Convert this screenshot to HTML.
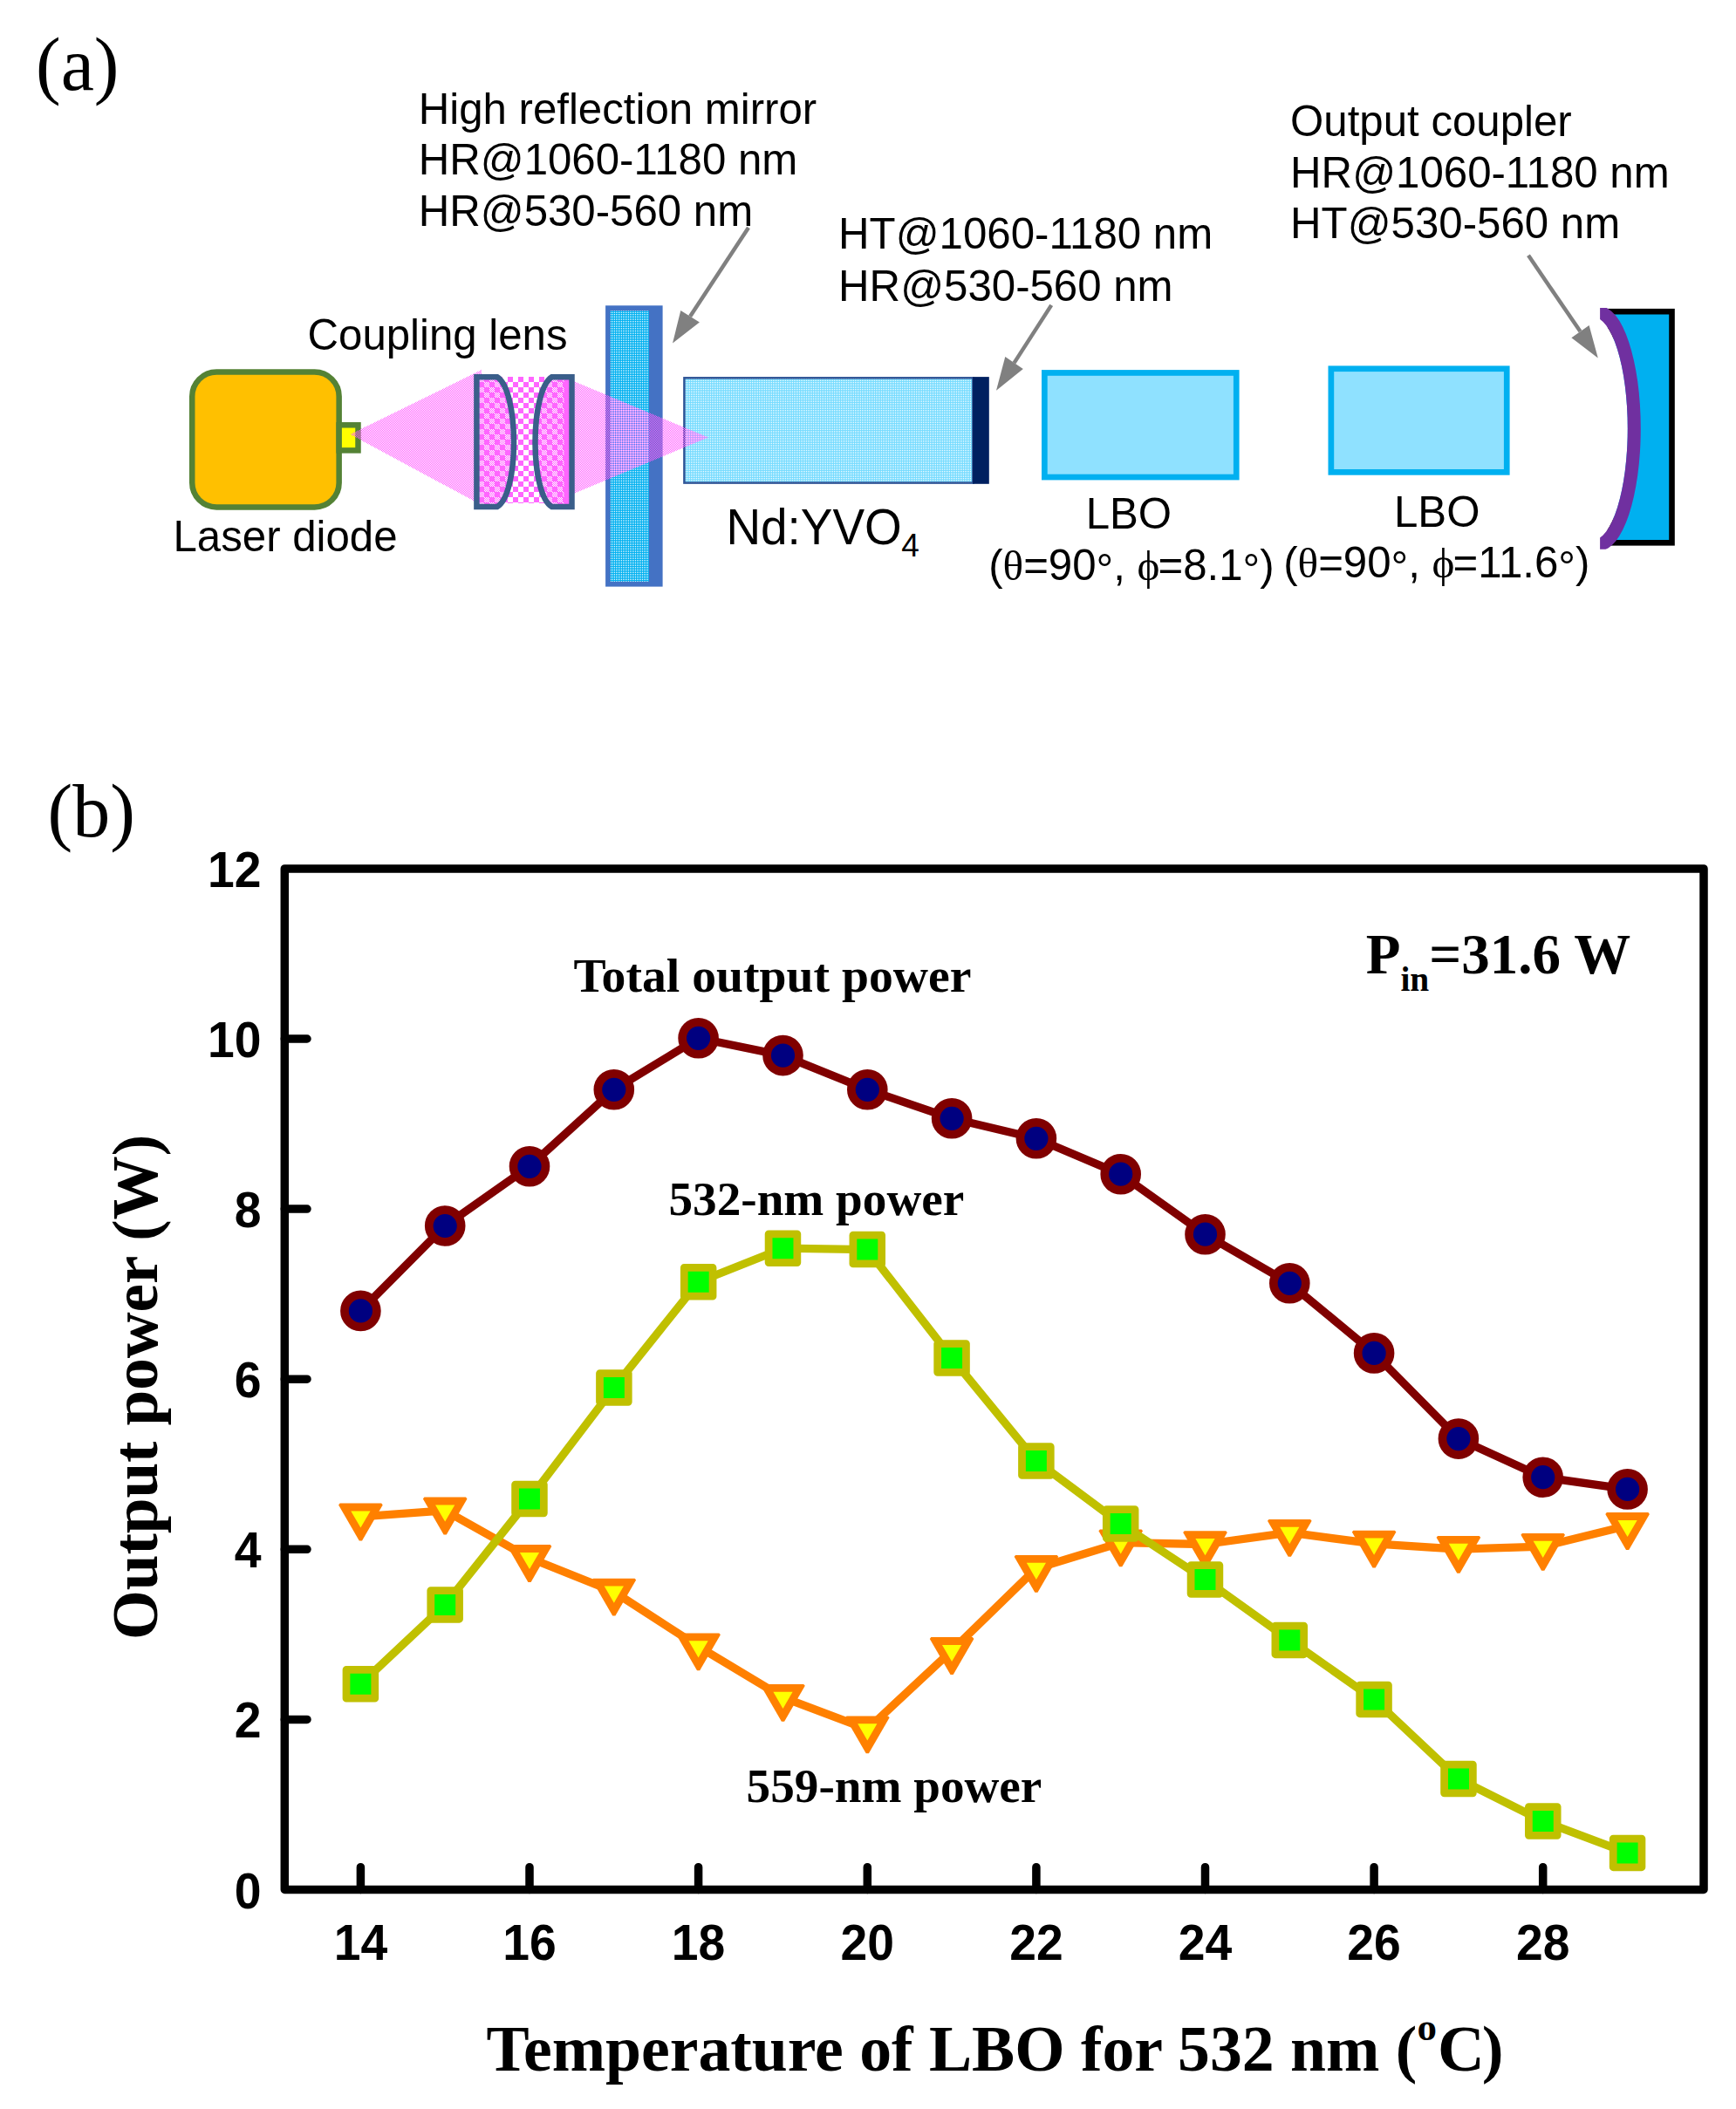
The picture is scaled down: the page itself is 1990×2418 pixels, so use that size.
<!DOCTYPE html>
<html><head><meta charset="utf-8"><title>Figure</title>
<style>
html,body{margin:0;padding:0;background:#fff;}
svg{display:block;}
</style></head>
<body>
<svg width="1990" height="2418" viewBox="0 0 1990 2418">
<rect x="0" y="0" width="1990" height="2418" fill="#FFFFFF"/>

<defs>
  <pattern id="pBeam" width="2" height="2" patternUnits="userSpaceOnUse">
    <rect x="1" y="0" width="1" height="1" fill="#FF5CFF"/>
    <rect x="0" y="1" width="1" height="1" fill="#FF5CFF"/>
  </pattern>
  <pattern id="pLensD" width="2" height="2" patternUnits="userSpaceOnUse">
    <rect width="2" height="2" fill="#FF66FF"/>
    <rect x="0" y="0" width="1" height="1" fill="#FFFFFF"/>
    <rect x="1" y="1" width="1" height="1" fill="#FFFFFF"/>
  </pattern>
  <pattern id="pLens" width="12" height="12" patternUnits="userSpaceOnUse" x="543" y="432">
    <rect width="12" height="12" fill="#FF66FF"/>
    <rect x="6" y="0" width="6" height="6" fill="url(#pLensD)"/>
    <rect x="0" y="6" width="6" height="6" fill="url(#pLensD)"/>
  </pattern>
  <pattern id="pCheck" width="12" height="12" patternUnits="userSpaceOnUse" x="570" y="432">
    <rect width="12" height="12" fill="#FFFFFF"/>
    <rect x="0" y="0" width="6" height="6" fill="#FF66FF"/>
    <rect x="6" y="6" width="6" height="6" fill="#FF66FF"/>
  </pattern>
  <pattern id="pMirror" width="2" height="2" patternUnits="userSpaceOnUse">
    <rect width="2" height="2" fill="#00B0F0"/>
    <rect x="0" y="0" width="1" height="1" fill="#FFFFFF"/>
  </pattern>
  <pattern id="pCrystal" width="2" height="2" patternUnits="userSpaceOnUse">
    <rect width="2" height="2" fill="#75DBFF"/>
    <rect x="0" y="0" width="1" height="1" fill="#FFFFFF"/>
  </pattern>
</defs>

<text x="41" y="102.8" font-family="'Liberation Serif', 'Times New Roman', serif" font-size="86">(a)</text>
<rect x="694.1" y="350.3" width="65.5" height="322.3" fill="#4472C4"/>
<rect x="699.6" y="356.3" width="44.3" height="310.5" fill="url(#pMirror)"/>
<rect x="784.4" y="433.3" width="331" height="120.3" fill="url(#pCrystal)" stroke="#2F5597" stroke-width="2.5"/>
<rect x="1115.1" y="432.1" width="18.7" height="122.7" fill="#002060"/>
<polygon points="401.5,498 552,424 552,579" fill="url(#pBeam)"/>
<polygon points="655,436 812,501.5 655,567" fill="url(#pBeam)"/>
<rect x="570" y="432" width="62" height="145" fill="url(#pCheck)"/>
<path d="M546.4,432.3 L570,432.3 C582,440 589,472 589,507 C589,542 582,574 570,581 L546.4,581 Z" fill="url(#pLens)" stroke="#3A5E8A" stroke-width="6.5" stroke-linejoin="miter"/>
<path d="M655.5,432.3 L632.5,432.3 C620.5,440 613.5,472 613.5,507 C613.5,542 620.5,574 632.5,581 L655.5,581 Z" fill="url(#pLens)"/>
<rect x="646.5" y="435" width="6" height="143" fill="#FF66FF"/>
<path d="M655.5,432.3 L632.5,432.3 C620.5,440 613.5,472 613.5,507 C613.5,542 620.5,574 632.5,581 L655.5,581 Z" fill="none" stroke="#3A5E8A" stroke-width="6.5" stroke-linejoin="miter"/>
<rect x="220.25" y="426.5" width="168.4" height="154.9" rx="28" ry="28" fill="#FFC000" stroke="#548235" stroke-width="6.5"/>
<rect x="388.65" y="487.3" width="21.85" height="29.1" fill="#FFFF00" stroke="#548235" stroke-width="6.5"/>
<polygon points="401.5,498 420,489 420,507.5" fill="url(#pBeam)"/>
<rect x="1197.35" y="427.45" width="219.9" height="119.6" fill="#8FE1FF" stroke="#00B0F0" stroke-width="6.7"/>
<rect x="1525.85" y="422.75" width="201.4" height="118.6" fill="#8FE1FF" stroke="#00B0F0" stroke-width="6.7"/>
<rect x="1846" y="357.2" width="70.5" height="265.1" fill="#00B0F0" stroke="#000000" stroke-width="6.6"/>
<clipPath id="ocClip"><rect x="1834.1" y="353.1" width="100" height="276.7"/></clipPath>
<g clip-path="url(#ocClip)">
<ellipse cx="1825.8" cy="491.2" rx="40" ry="128" fill="#FFFFFF"/>
<path fill-rule="evenodd" fill="#7030A0" d="M1834.3,351.2 A46.5,140 0 0 1 1834.3,631.2 A46.5,140 0 0 1 1834.3,351.2 Z M1825.8,363.2 A40,128 0 0 1 1825.8,619.2 A40,128 0 0 1 1825.8,363.2 Z"/>
</g>
<line x1="858" y1="261" x2="791.1" y2="362.8" stroke="#808080" stroke-width="4.5"/><polygon points="771,393.4 780.3,356.1 801.9,369.5" fill="#808080"/>
<line x1="1205.2" y1="349.9" x2="1162.5" y2="416.1" stroke="#808080" stroke-width="4.5"/><polygon points="1142,447.8 1152.3,409.1 1172.8,423.1" fill="#808080"/>
<line x1="1752" y1="292.8" x2="1811.5" y2="380.1" stroke="#808080" stroke-width="4.5"/><polygon points="1831.8,410.5 1801.4,387.2 1821.6,373" fill="#808080"/>
<g font-family="'Liberation Sans', Arial, sans-serif" font-size="49.2" fill="#000">
<text x="479.7" y="141.8">High reflection mirror</text>
<text x="479.7" y="200.3">HR@1060-1180 nm</text>
<text x="479.7" y="258.5">HR@530-560 nm</text>
<text x="961.1" y="285.3">HT@1060-1180 nm</text>
<text x="961.1" y="344.6">HR@530-560 nm</text>
<text x="1479.1" y="156.2">Output coupler</text>
<text x="1479.1" y="214.6">HR@1060-1180 nm</text>
<text x="1479.1" y="273.4">HT@530-560 nm</text>
<text x="352.5" y="400.9">Coupling lens</text>
<text x="198.5" y="632.3">Laser diode</text>
<text x="1244.7" y="606">LBO</text>
<text x="1598" y="604.4">LBO</text>
<text x="1133.2" y="664.7">(<tspan font-family="'Liberation Serif', 'Times New Roman', serif">θ</tspan>=90<tspan dy="5">°</tspan><tspan dy="-5">, </tspan><tspan font-family="'Liberation Serif', 'Times New Roman', serif">ϕ</tspan><tspan dx="-2">=8.1</tspan><tspan dy="5">°</tspan><tspan dy="-5">)</tspan></text>
<text x="1471.2" y="661.8">(<tspan font-family="'Liberation Serif', 'Times New Roman', serif">θ</tspan>=90<tspan dy="5">°</tspan><tspan dy="-5">, </tspan><tspan font-family="'Liberation Serif', 'Times New Roman', serif">ϕ</tspan><tspan dx="-2">=11.6</tspan><tspan dy="5">°</tspan><tspan dy="-5">)</tspan></text>
</g>
<text x="832.4" y="624.1" font-family="'Liberation Sans', Arial, sans-serif" font-size="57.5" textLength="201.4" lengthAdjust="spacingAndGlyphs">Nd:YVO</text>
<text x="1033.2" y="637.9" font-family="'Liberation Sans', Arial, sans-serif" font-size="37">4</text>
<text x="54.5" y="958.8" font-family="'Liberation Serif', 'Times New Roman', serif" font-size="86">(b)</text>
<rect x="326.3" y="995.9" width="1626.7" height="1170.6" fill="none" stroke="#000" stroke-width="9.5" stroke-linejoin="round"/>
<path d="M326.3,1971.4 H352 M326.3,1776.3 H352 M326.3,1581.2 H352 M326.3,1386.1 H352 M326.3,1191.0 H352 M413.4,2166.5 V2140.7 M607.0,2166.5 V2140.7 M800.6,2166.5 V2140.7 M994.3,2166.5 V2140.7 M1187.9,2166.5 V2140.7 M1381.5,2166.5 V2140.7 M1575.1,2166.5 V2140.7 M1768.7,2166.5 V2140.7" stroke="#000" stroke-width="9.5" stroke-linecap="round" fill="none"/>
<g font-family="'Liberation Sans', Arial, sans-serif" font-weight="bold" font-size="57.5" fill="#000">
<text x="299.5" y="2187.5" text-anchor="end" textLength="30.8" lengthAdjust="spacingAndGlyphs">0</text>
<text x="299.5" y="1992.4" text-anchor="end" textLength="30.8" lengthAdjust="spacingAndGlyphs">2</text>
<text x="299.5" y="1797.3" text-anchor="end" textLength="30.8" lengthAdjust="spacingAndGlyphs">4</text>
<text x="299.5" y="1602.2" text-anchor="end" textLength="30.8" lengthAdjust="spacingAndGlyphs">6</text>
<text x="299.5" y="1407.1" text-anchor="end" textLength="30.8" lengthAdjust="spacingAndGlyphs">8</text>
<text x="299.5" y="1212.0" text-anchor="end" textLength="61.5" lengthAdjust="spacingAndGlyphs">10</text>
<text x="299.5" y="1016.9" text-anchor="end" textLength="61.5" lengthAdjust="spacingAndGlyphs">12</text>
<text x="413.4" y="2246.5" text-anchor="middle" textLength="61.5" lengthAdjust="spacingAndGlyphs">14</text>
<text x="607.0" y="2246.5" text-anchor="middle" textLength="61.5" lengthAdjust="spacingAndGlyphs">16</text>
<text x="800.6" y="2246.5" text-anchor="middle" textLength="61.5" lengthAdjust="spacingAndGlyphs">18</text>
<text x="994.3" y="2246.5" text-anchor="middle" textLength="61.5" lengthAdjust="spacingAndGlyphs">20</text>
<text x="1187.9" y="2246.5" text-anchor="middle" textLength="61.5" lengthAdjust="spacingAndGlyphs">22</text>
<text x="1381.5" y="2246.5" text-anchor="middle" textLength="61.5" lengthAdjust="spacingAndGlyphs">24</text>
<text x="1575.1" y="2246.5" text-anchor="middle" textLength="61.5" lengthAdjust="spacingAndGlyphs">26</text>
<text x="1768.7" y="2246.5" text-anchor="middle" textLength="61.5" lengthAdjust="spacingAndGlyphs">28</text>
</g>
<polyline points="413.4,1738.8 510.2,1731.8 607.0,1786.3 703.8,1825.0 800.6,1887.7 897.5,1946.1 994.3,1982.6 1091.1,1892.3 1187.9,1798.2 1284.7,1768.7 1381.5,1770.5 1478.3,1757.2 1575.1,1769.9 1671.9,1776.2 1768.7,1773.1 1865.6,1749.3" fill="none" stroke="#FF8000" stroke-width="9.3" stroke-linejoin="round"/>
<polygon points="389.6,1723.6 437.2,1723.6 438.7,1725.4 415.0,1766.4 411.8,1766.4 388.1,1725.4" fill="#FF8000"/>
<polygon points="402.3,1732.4 424.5,1732.4 413.4,1751.6" fill="#FFFF00"/>
<polygon points="486.4,1716.6 534.0,1716.6 535.5,1718.4 511.8,1759.4 508.6,1759.4 484.9,1718.4" fill="#FF8000"/>
<polygon points="499.1,1725.4 521.3,1725.4 510.2,1744.6" fill="#FFFF00"/>
<polygon points="583.2,1771.1 630.8,1771.1 632.3,1772.9 608.6,1813.9 605.4,1813.9 581.7,1772.9" fill="#FF8000"/>
<polygon points="595.9,1779.9 618.1,1779.9 607.0,1799.1" fill="#FFFF00"/>
<polygon points="680.0,1809.8 727.6,1809.8 729.1,1811.6 705.4,1852.6 702.2,1852.6 678.5,1811.6" fill="#FF8000"/>
<polygon points="692.7,1818.6 714.9,1818.6 703.8,1837.8" fill="#FFFF00"/>
<polygon points="776.8,1872.5 824.4,1872.5 825.9,1874.3 802.2,1915.3 799.0,1915.3 775.3,1874.3" fill="#FF8000"/>
<polygon points="789.5,1881.3 811.7,1881.3 800.6,1900.5" fill="#FFFF00"/>
<polygon points="873.7,1930.9 921.2,1930.9 922.8,1932.7 899.1,1973.7 895.9,1973.7 872.2,1932.7" fill="#FF8000"/>
<polygon points="886.4,1939.7 908.6,1939.7 897.5,1958.9" fill="#FFFF00"/>
<polygon points="970.5,1967.4 1018.1,1967.4 1019.6,1969.2 995.9,2010.2 992.7,2010.2 969.0,1969.2" fill="#FF8000"/>
<polygon points="983.2,1976.2 1005.4,1976.2 994.3,1995.4" fill="#FFFF00"/>
<polygon points="1067.3,1877.1 1114.9,1877.1 1116.4,1878.9 1092.7,1919.9 1089.5,1919.9 1065.8,1878.9" fill="#FF8000"/>
<polygon points="1080.0,1885.9 1102.2,1885.9 1091.1,1905.1" fill="#FFFF00"/>
<polygon points="1164.1,1783.0 1211.7,1783.0 1213.2,1784.8 1189.5,1825.8 1186.3,1825.8 1162.6,1784.8" fill="#FF8000"/>
<polygon points="1176.8,1791.8 1199.0,1791.8 1187.9,1811.0" fill="#FFFF00"/>
<polygon points="1260.9,1753.5 1308.5,1753.5 1310.0,1755.3 1286.3,1796.3 1283.1,1796.3 1259.4,1755.3" fill="#FF8000"/>
<polygon points="1273.6,1762.3 1295.8,1762.3 1284.7,1781.5" fill="#FFFF00"/>
<polygon points="1357.7,1755.3 1405.3,1755.3 1406.8,1757.1 1383.1,1798.1 1379.9,1798.1 1356.2,1757.1" fill="#FF8000"/>
<polygon points="1370.4,1764.1 1392.6,1764.1 1381.5,1783.3" fill="#FFFF00"/>
<polygon points="1454.5,1742.0 1502.1,1742.0 1503.6,1743.8 1479.9,1784.8 1476.7,1784.8 1453.0,1743.8" fill="#FF8000"/>
<polygon points="1467.2,1750.8 1489.4,1750.8 1478.3,1770.0" fill="#FFFF00"/>
<polygon points="1551.3,1754.7 1598.9,1754.7 1600.4,1756.5 1576.7,1797.5 1573.5,1797.5 1549.8,1756.5" fill="#FF8000"/>
<polygon points="1564.0,1763.5 1586.2,1763.5 1575.1,1782.7" fill="#FFFF00"/>
<polygon points="1648.1,1761.0 1695.7,1761.0 1697.2,1762.8 1673.5,1803.8 1670.3,1803.8 1646.6,1762.8" fill="#FF8000"/>
<polygon points="1660.8,1769.8 1683.0,1769.8 1671.9,1789.0" fill="#FFFF00"/>
<polygon points="1744.9,1757.9 1792.5,1757.9 1794.0,1759.7 1770.3,1800.7 1767.1,1800.7 1743.4,1759.7" fill="#FF8000"/>
<polygon points="1757.6,1766.7 1779.8,1766.7 1768.7,1785.9" fill="#FFFF00"/>
<polygon points="1841.8,1734.1 1889.4,1734.1 1890.9,1735.9 1867.2,1776.9 1864.0,1776.9 1840.3,1735.9" fill="#FF8000"/>
<polygon points="1854.5,1742.9 1876.7,1742.9 1865.6,1762.1" fill="#FFFF00"/>
<polyline points="413.4,1930.8 510.2,1839.9 607.0,1718.5 703.8,1591.0 800.6,1469.8 897.5,1431.2 994.3,1432.6 1091.1,1557.0 1187.9,1675.1 1284.7,1747.1 1381.5,1811.0 1478.3,1880.4 1575.1,1948.4 1671.9,2039.5 1768.7,2088.0 1865.6,2124.4" fill="none" stroke="#C0C000" stroke-width="9.3" stroke-linejoin="round"/>
<rect x="397.0" y="1914.4" width="32.75" height="32.75" fill="#00FF00" stroke="#C0C000" stroke-width="8.75" stroke-linejoin="round"/>
<rect x="493.8" y="1823.5" width="32.75" height="32.75" fill="#00FF00" stroke="#C0C000" stroke-width="8.75" stroke-linejoin="round"/>
<rect x="590.6" y="1702.1" width="32.75" height="32.75" fill="#00FF00" stroke="#C0C000" stroke-width="8.75" stroke-linejoin="round"/>
<rect x="687.5" y="1574.6" width="32.75" height="32.75" fill="#00FF00" stroke="#C0C000" stroke-width="8.75" stroke-linejoin="round"/>
<rect x="784.3" y="1453.4" width="32.75" height="32.75" fill="#00FF00" stroke="#C0C000" stroke-width="8.75" stroke-linejoin="round"/>
<rect x="881.1" y="1414.8" width="32.75" height="32.75" fill="#00FF00" stroke="#C0C000" stroke-width="8.75" stroke-linejoin="round"/>
<rect x="977.9" y="1416.2" width="32.75" height="32.75" fill="#00FF00" stroke="#C0C000" stroke-width="8.75" stroke-linejoin="round"/>
<rect x="1074.7" y="1540.6" width="32.75" height="32.75" fill="#00FF00" stroke="#C0C000" stroke-width="8.75" stroke-linejoin="round"/>
<rect x="1171.5" y="1658.7" width="32.75" height="32.75" fill="#00FF00" stroke="#C0C000" stroke-width="8.75" stroke-linejoin="round"/>
<rect x="1268.3" y="1730.7" width="32.75" height="32.75" fill="#00FF00" stroke="#C0C000" stroke-width="8.75" stroke-linejoin="round"/>
<rect x="1365.1" y="1794.6" width="32.75" height="32.75" fill="#00FF00" stroke="#C0C000" stroke-width="8.75" stroke-linejoin="round"/>
<rect x="1461.9" y="1864.0" width="32.75" height="32.75" fill="#00FF00" stroke="#C0C000" stroke-width="8.75" stroke-linejoin="round"/>
<rect x="1558.7" y="1932.0" width="32.75" height="32.75" fill="#00FF00" stroke="#C0C000" stroke-width="8.75" stroke-linejoin="round"/>
<rect x="1655.6" y="2023.1" width="32.75" height="32.75" fill="#00FF00" stroke="#C0C000" stroke-width="8.75" stroke-linejoin="round"/>
<rect x="1752.4" y="2071.6" width="32.75" height="32.75" fill="#00FF00" stroke="#C0C000" stroke-width="8.75" stroke-linejoin="round"/>
<rect x="1849.2" y="2108.0" width="32.75" height="32.75" fill="#00FF00" stroke="#C0C000" stroke-width="8.75" stroke-linejoin="round"/>
<polyline points="413.4,1502.9 510.2,1405.5 607.0,1337.3 703.8,1249.3 800.6,1190.3 897.5,1210.1 994.3,1249.3 1091.1,1282.3 1187.9,1305.3 1284.7,1346.2 1381.5,1415.2 1478.3,1471.3 1575.1,1551.4 1671.9,1649.6 1768.7,1693.7 1865.6,1707.4" fill="none" stroke="#800000" stroke-width="9.3" stroke-linejoin="round"/>
<circle cx="413.4" cy="1502.9" r="18.45" fill="#000080" stroke="#800000" stroke-width="9.7"/>
<circle cx="510.2" cy="1405.5" r="18.45" fill="#000080" stroke="#800000" stroke-width="9.7"/>
<circle cx="607.0" cy="1337.3" r="18.45" fill="#000080" stroke="#800000" stroke-width="9.7"/>
<circle cx="703.8" cy="1249.3" r="18.45" fill="#000080" stroke="#800000" stroke-width="9.7"/>
<circle cx="800.6" cy="1190.3" r="18.45" fill="#000080" stroke="#800000" stroke-width="9.7"/>
<circle cx="897.5" cy="1210.1" r="18.45" fill="#000080" stroke="#800000" stroke-width="9.7"/>
<circle cx="994.3" cy="1249.3" r="18.45" fill="#000080" stroke="#800000" stroke-width="9.7"/>
<circle cx="1091.1" cy="1282.3" r="18.45" fill="#000080" stroke="#800000" stroke-width="9.7"/>
<circle cx="1187.9" cy="1305.3" r="18.45" fill="#000080" stroke="#800000" stroke-width="9.7"/>
<circle cx="1284.7" cy="1346.2" r="18.45" fill="#000080" stroke="#800000" stroke-width="9.7"/>
<circle cx="1381.5" cy="1415.2" r="18.45" fill="#000080" stroke="#800000" stroke-width="9.7"/>
<circle cx="1478.3" cy="1471.3" r="18.45" fill="#000080" stroke="#800000" stroke-width="9.7"/>
<circle cx="1575.1" cy="1551.4" r="18.45" fill="#000080" stroke="#800000" stroke-width="9.7"/>
<circle cx="1671.9" cy="1649.6" r="18.45" fill="#000080" stroke="#800000" stroke-width="9.7"/>
<circle cx="1768.7" cy="1693.7" r="18.45" fill="#000080" stroke="#800000" stroke-width="9.7"/>
<circle cx="1865.6" cy="1707.4" r="18.45" fill="#000080" stroke="#800000" stroke-width="9.7"/>
<g font-family="'Liberation Serif', 'Times New Roman', serif" font-weight="bold" fill="#000">
<text x="657.6" y="1136.7" font-size="55.7">Total output power</text>
<text x="766.5" y="1392.6" font-size="55.2">532-nm power</text>
<text x="855.6" y="2065.9" font-size="55.2">559-nm power</text>
<text x="1565.7" y="1115.7" font-size="65">P<tspan font-size="39.4" dy="20.7">in</tspan><tspan dy="-20.7">=31.6 W</tspan></text>
<text x="557.6" y="2374" font-size="74.5" textLength="1066.7" lengthAdjust="spacingAndGlyphs">Temperature of LBO for 532 nm (</text>
<text x="1624.5" y="2338.5" font-size="45">o</text>
<text x="1648" y="2374" font-size="74.5">C<tspan dx="-3">)</tspan></text>
<text transform="translate(180.3,1880) rotate(-90)" x="0" y="0" font-size="73.5" textLength="579" lengthAdjust="spacingAndGlyphs">Output power (W)</text>
</g>
</svg>
</body></html>
